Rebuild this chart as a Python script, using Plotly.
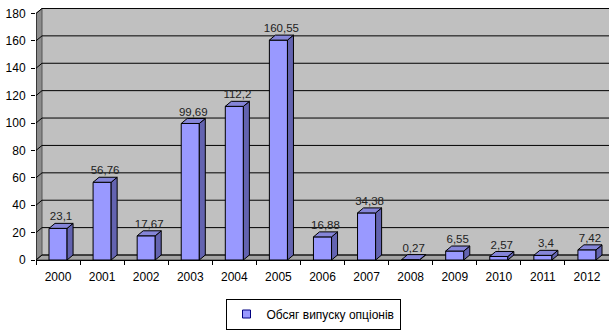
import plotly.graph_objects as go

# Option issue volume by year
years = ["2000", "2001", "2002", "2003", "2004", "2005", "2006",
         "2007", "2008", "2009", "2010", "2011", "2012"]
volumes = [23.1, 56.76, 17.67, 99.69, 112.2, 160.55, 16.88,
           34.38, 0.27, 6.55, 2.57, 3.4, 7.42]
y_ticks = [0, 20, 40, 60, 80, 100, 120, 140, 160, 180]
series_name = "Обсяг випуску опціонів"

W, H = 609, 331
M_L, M_R, M_T, M_B = 36, 0, 8, 71
Y_MAX = 184
n = len(years)
x_pos = list(range(n))

plot_w = W - M_L - M_R
plot_h = H - M_T - M_B
px_per_x = plot_w / n
px_per_y = plot_h / Y_MAX

# pseudo-3D depth offset (pixels -> data units)
DX = 6 / px_per_x
DY = 5 / px_per_y
BAR_W = 0.41

FRONT = "#9999ff"
SIDE = "#6363b0"
TOP = "#8585d8"
BACK_WALL = "#c0c0c0"
SIDE_WALL = "#8c8c8c"
FLOOR = "#a4a4a4"
FONT = "Arial, Liberation Sans, sans-serif"

fig = go.Figure()

fig.add_trace(go.Bar(
    x=x_pos, y=volumes, width=BAR_W,
    marker=dict(color=FRONT, line=dict(color="black", width=1)),
    showlegend=False, hoverinfo="skip",
))

fig.add_trace(go.Scatter(
    x=[i + DX / 2 for i in x_pos], y=[v + DY for v in volumes],
    mode="text", text=[str(v).replace(".", ",") for v in volumes],
    textposition="top center",
    textfont=dict(family=FONT, size=11.5, color="#222"),
    showlegend=False, hoverinfo="skip",
))

fig.add_trace(go.Scatter(
    x=[None], y=[None], mode="markers", name=series_name,
    marker=dict(symbol="square", size=8, color=FRONT,
                line=dict(color="#000080", width=1)),
))

shapes = []
x0, x1 = -0.5, n - 0.5

def poly(pts):
    return "M " + " L ".join(f"{x},{y}" for x, y in pts) + " Z"

# walls and floor
shapes.append(dict(type="path", xref="x", yref="y", layer="below",
                   path=poly([(x0 + DX, DY), (x0 + DX, y_ticks[-1] + DY),
                              (x1 + DX, y_ticks[-1] + DY), (x1 + DX, DY)]),
                   fillcolor=BACK_WALL, line=dict(width=0)))
shapes.append(dict(type="path", xref="x", yref="y", layer="below",
                   path=poly([(x0, 0), (x0, y_ticks[-1]),
                              (x0 + DX, y_ticks[-1] + DY), (x0 + DX, DY)]),
                   fillcolor=SIDE_WALL, line=dict(color="#555", width=1)))
shapes.append(dict(type="path", xref="x", yref="y", layer="below",
                   path=poly([(x0, 0), (x0 + DX, DY), (x1 + DX, DY), (x1, 0)]),
                   fillcolor=FLOOR, line=dict(color="#444", width=1)))

# gridlines on the back wall, with a slanted segment on the side wall
for t in y_ticks:
    shapes.append(dict(type="path", xref="x", yref="y", layer="below",
                       path=f"M {x0},{t} L {x0 + DX},{t + DY} L {x1 + DX},{t + DY}",
                       line=dict(color="black", width=1)))

# value axis line
shapes.append(dict(type="line", xref="x", yref="y", layer="below",
                   x0=x0, x1=x0, y0=0, y1=y_ticks[-1],
                   line=dict(color="black", width=1)))

# side and top faces of each bar
for i, v in zip(x_pos, volumes):
    l, r = i - BAR_W / 2, i + BAR_W / 2
    shapes.append(dict(type="path", xref="x", yref="y", layer="above",
                       path=poly([(r, 0), (r + DX, DY), (r + DX, v + DY), (r, v)]),
                       fillcolor=SIDE, line=dict(color="black", width=1)))
    shapes.append(dict(type="path", xref="x", yref="y", layer="above",
                       path=poly([(l, v), (l + DX, v + DY), (r + DX, v + DY), (r, v)]),
                       fillcolor=TOP, line=dict(color="black", width=1)))

fig.update_layout(
    width=W, height=H,
    margin=dict(l=M_L, r=M_R, t=M_T, b=M_B, autoexpand=False),
    paper_bgcolor="white", plot_bgcolor="white",
    font=dict(family=FONT, size=12, color="black"),
    shapes=shapes,
    xaxis=dict(range=[x0, x1], tickmode="array", tickvals=x_pos, ticktext=years,
               ticks="", showgrid=False, zeroline=False, automargin=False,
               showline=True, linecolor="black", linewidth=1,
               ticklabelstandoff=6,
               minor=dict(tickmode="array", tickvals=[i - 0.5 for i in range(n + 1)],
                          ticks="outside", ticklen=4, tickcolor="black", showgrid=False),
               fixedrange=True),
    yaxis=dict(range=[0, Y_MAX], tickmode="array", tickvals=y_ticks,
               ticks="outside", ticklen=4, tickcolor="black", automargin=False,
               ticklabelstandoff=3,
               showgrid=False, zeroline=False, showline=False, fixedrange=True),
    legend=dict(orientation="h", x=(313 - M_L) / plot_w, xanchor="center",
                y=-(329.5 - (H - M_B)) / plot_h, yanchor="bottom",
                bordercolor="black", borderwidth=1, itemwidth=30,
                font=dict(family=FONT, size=12), bgcolor="white"),
    showlegend=True,
)

fig.write_html("out.html")
